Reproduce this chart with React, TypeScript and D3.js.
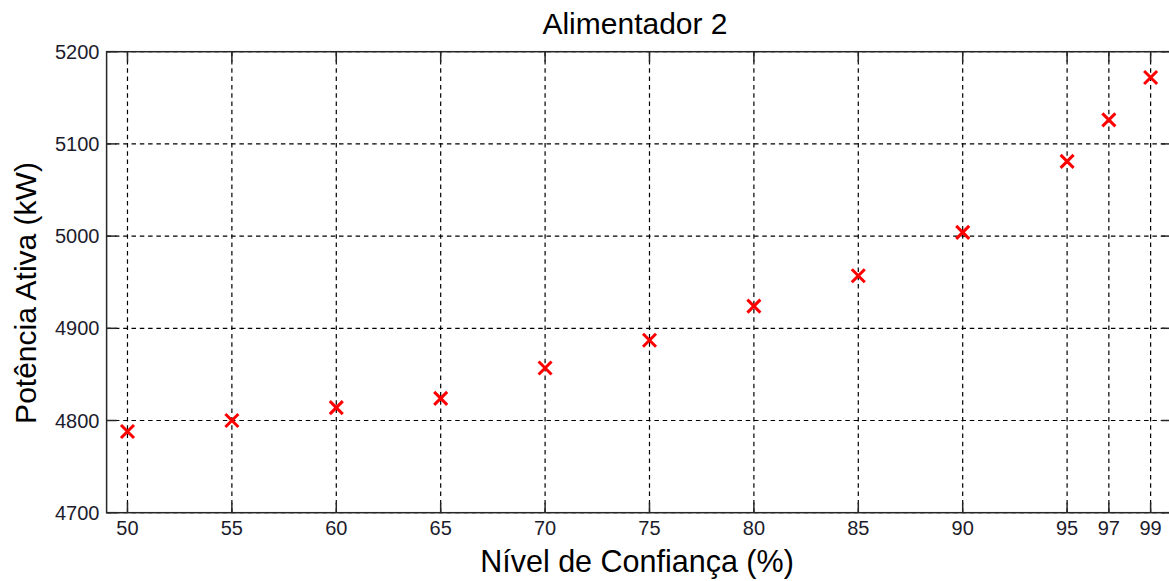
import React from "react";
import * as d3 from "d3";

const confidence = [50, 55, 60, 65, 70, 75, 80, 85, 90, 95, 97, 99];
const power = [4788, 4800, 4814, 4824, 4857, 4887, 4924, 4957, 5004, 5081, 5126, 5172];
const xTicks = [50, 55, 60, 65, 70, 75, 80, 85, 90, 95, 97, 99];
const yTicks = [4700, 4800, 4900, 5000, 5100, 5200];

const W = 1169;
const H = 581;
const FONT = "'Liberation Sans', Arial, sans-serif";

export default function App() {
  const left = 106.6;
  const right = 1171.5;
  const top = 51.7;
  const bottom = 512.7;
  const x = d3.scaleLinear().domain([49, 100]).range([left, right]);
  const y = d3.scaleLinear().domain([4700, 5200]).range([bottom, top]);
  const tick = 10;
  const m = 6.5;
  const axisColor = "#262626";
  const labelColor = "#1c1c2c";

  return (
    <svg width={W} height={H} style={{ position: "absolute", left: 0, top: 0, background: "#fff" }}>
      <rect x={0} y={0} width={W} height={H} fill="#fff" />
      {/* grid */}
      {xTicks.map((t) => (
        <line key={"gx" + t} x1={x(t)} x2={x(t)} y1={top} y2={bottom} stroke="#000" strokeWidth={1.2} strokeDasharray="4.5,3.8" />
      ))}
      {yTicks.map((t) => (
        <line key={"gy" + t} x1={left} x2={right} y1={y(t)} y2={y(t)} stroke="#000" strokeWidth={1.2} strokeDasharray="4.5,3.8" />
      ))}
      {/* ticks */}
      {xTicks.map((t) => (
        <g key={"tx" + t}>
          <line x1={x(t)} x2={x(t)} y1={bottom} y2={bottom - tick} stroke={axisColor} strokeWidth={1.5} />
          <line x1={x(t)} x2={x(t)} y1={top} y2={top + tick} stroke={axisColor} strokeWidth={1.5} />
          <text x={x(t)} y={bottom + 22.5} textAnchor="middle" fontFamily={FONT} fontSize={20} fill={labelColor}>
            {t}
          </text>
        </g>
      ))}
      {yTicks.map((t) => (
        <g key={"ty" + t}>
          <line x1={left} x2={left + tick} y1={y(t)} y2={y(t)} stroke={axisColor} strokeWidth={1.5} />
          <line x1={right} x2={right - tick} y1={y(t)} y2={y(t)} stroke={axisColor} strokeWidth={1.5} />
          <text x={99.5} y={y(t) + 7} textAnchor="end" fontFamily={FONT} fontSize={20} fill={labelColor}>
            {t}
          </text>
        </g>
      ))}
      {/* box */}
      <rect x={left} y={top} width={right - left} height={bottom - top} fill="none" stroke={axisColor} strokeWidth={1.5} />
      {/* markers */}
      {confidence.map((c, i) => (
        <path
          key={"m" + c}
          d={`M${x(c) - m},${y(power[i]) - m}L${x(c) + m},${y(power[i]) + m}M${x(c) - m},${y(power[i]) + m}L${x(c) + m},${y(power[i]) - m}`}
          stroke="#ff0000"
          strokeWidth={3}
          fill="none"
        />
      ))}
      {/* titles */}
      <text x={635} y={33.5} textAnchor="middle" fontFamily={FONT} fontSize={30} fill="#000">
        Alimentador 2
      </text>
      <text x={637} y={571.5} textAnchor="middle" fontFamily={FONT} fontSize={30.5} fill="#000">
        Nível de Confiança (%)
      </text>
      <text
        transform={`translate(36, 293) rotate(-90)`}
        textAnchor="middle"
        fontFamily={FONT}
        fontSize={30}
        fill="#000"
      >
        Potência Ativa (kW)
      </text>
    </svg>
  );
}
